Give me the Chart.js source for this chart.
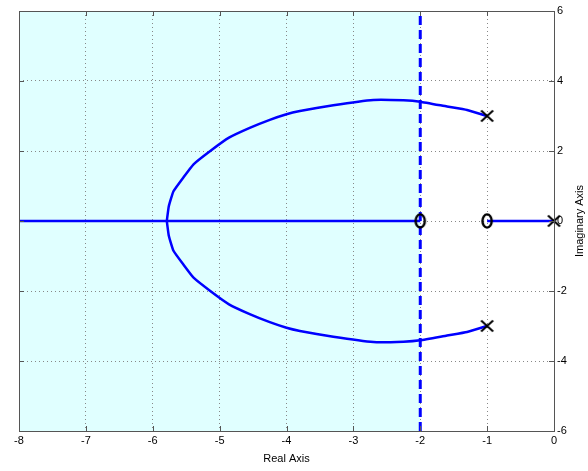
<!DOCTYPE html>
<html>
<head>
<meta charset="utf-8">
<script src="https://cdn.jsdelivr.net/npm/chart.js@4.4.1/dist/chart.umd.min.js"></script>
<style>
  html, body { margin: 0; padding: 0; background: #fff; }
  #wrap { width: 588px; height: 471px; }
</style>
</head>
<body>
<div id="wrap"><canvas id="rl"></canvas></div>
<script>
/* root locus */
const xTicks = [-8, -7, -6, -5, -4, -3, -2, -1, 0];
const yTicks = [-6, -4, -2, 0, 2, 4, 6];

// upper complex branch, from the pole at -1+3j to the break-in point
const upperRe = [-1, -1.3, -1.6, -2.0, -2.25, -2.7, -3.3, -3.8, -4.0, -4.25, -4.55, -4.86, -5.14, -5.39, -5.54, -5.69, -5.76, -5.79];
const upperIm = [3.0, 3.17, 3.27, 3.41, 3.45, 3.46, 3.31, 3.14, 3.05, 2.89, 2.66, 2.38, 2.0, 1.62, 1.25, 0.85, 0.42, 0];
// lower complex branch (mirror image)
const lowerRe = [-1, -1.3, -1.6, -2.0, -2.25, -2.7, -3.3, -3.8, -4.0, -4.25, -4.55, -4.86, -5.14, -5.39, -5.54, -5.69, -5.76, -5.79];
const lowerIm = [-3.0, -3.17, -3.27, -3.41, -3.45, -3.46, -3.31, -3.14, -3.05, -2.89, -2.66, -2.38, -2.0, -1.62, -1.25, -0.85, -0.42, 0];

const realLeftRe = [-8, -2];
const realRightRe = [-1, 0];
const dashRe = -2;
const dashIm = [-6, 6];

const polesRe = [-1, -1, 0];
const polesIm = [3, -3, 0];
const zerosRe = [-2, -1];
const zerosIm = [0, 0];

const shadeRe = [-8, -2];

const pts = (xs, ys) => xs.map((x, i) => ({ x, y: ys[i] }));

// marker glyphs
function xGlyph() {
  const c = document.createElement('canvas');
  c.width = 15; c.height = 14;
  const g = c.getContext('2d');
  g.strokeStyle = '#000'; g.lineWidth = 2;
  g.beginPath();
  g.moveTo(1.5, 1.5); g.lineTo(13.5, 12.5);
  g.moveTo(13.5, 1.5); g.lineTo(1.5, 12.5);
  g.stroke();
  return c;
}
function oGlyph() {
  const c = document.createElement('canvas');
  c.width = 14; c.height = 18;
  const g = c.getContext('2d');
  g.strokeStyle = '#000'; g.lineWidth = 2.4;
  g.beginPath();
  g.ellipse(7, 9, 4.6, 6.6, 0, 0, Math.PI * 2);
  g.stroke();
  return c;
}

const BLUE = '#0000ff';
const FONT = { family: '"Liberation Sans", Arial, sans-serif', size: 11 };

// shaded region, box, inward ticks, y title
const decor = {
  id: 'decor',
  beforeDraw(chart) {
    const { ctx, chartArea: a, scales: { x } } = chart;
    const x0 = x.getPixelForValue(shadeRe[0]);
    const x1 = x.getPixelForValue(shadeRe[1]);
    ctx.save();
    ctx.fillStyle = '#e0ffff';
    ctx.fillRect(x0, a.top, x1 - x0, a.bottom - a.top);
    ctx.restore();
  },
  afterDraw(chart) {
    const { ctx, chartArea: a, scales: { x, y } } = chart;
    ctx.save();
    ctx.strokeStyle = '#555';
    ctx.lineWidth = 1;
    ctx.strokeRect(a.left + 0.5, a.top + 0.5, a.right - a.left, a.bottom - a.top);
    ctx.beginPath();
    xTicks.forEach(v => {
      const px = Math.round(x.getPixelForValue(v)) + 0.5;
      ctx.moveTo(px, a.bottom); ctx.lineTo(px, a.bottom - 5);
      ctx.moveTo(px, a.top); ctx.lineTo(px, a.top + 5);
    });
    yTicks.forEach(v => {
      const py = Math.round(y.getPixelForValue(v)) + 0.5;
      ctx.moveTo(a.right, py); ctx.lineTo(a.right - 5, py);
      ctx.moveTo(a.left, py); ctx.lineTo(a.left + 5, py);
    });
    ctx.stroke();
    // y axis title reads bottom to top
    ctx.translate(580, (a.top + a.bottom) / 2);
    ctx.rotate(-Math.PI / 2);
    ctx.fillStyle = '#000';
    ctx.font = `${FONT.size}px ${FONT.family}`;
    ctx.textAlign = 'center';
    ctx.textBaseline = 'middle';
    ctx.fillText('Imaginary Axis', 0, 0);
    ctx.restore();
  }
};

const lineDs = (data, extra) => Object.assign({
  data, showLine: true, borderColor: BLUE, borderWidth: 2.5,
  pointRadius: 0, tension: 0, fill: false, order: 2
}, extra || {});

new Chart(document.getElementById('rl'), {
  type: 'scatter',
  data: {
    datasets: [
      lineDs(pts(upperRe, upperIm), { tension: 0.12 }),
      lineDs(pts(lowerRe, lowerIm), { tension: 0.12 }),
      lineDs(pts(realLeftRe, [0, 0])),
      lineDs(pts(realRightRe, [0, 0])),
      lineDs(pts([dashRe, dashRe], dashIm), { borderWidth: 3, borderDash: [9, 5], order: 1 }),
      { data: pts(polesRe, polesIm), pointStyle: xGlyph(), pointRadius: 7, clip: false, order: 0 },
      { data: pts(zerosRe, zerosIm), pointStyle: oGlyph(), pointRadius: 7, clip: false, order: 0 }
    ]
  },
  options: {
    responsive: true,
    maintainAspectRatio: false,
    animation: false,
    layout: { padding: { left: 19, top: 11, right: 0, bottom: 0 } },
    plugins: { legend: { display: false }, tooltip: { enabled: false } },
    scales: {
      x: {
        type: 'linear', min: -8, max: 0,
        afterBuildTicks: s => { s.ticks = xTicks.map(v => ({ value: v })); },
        afterFit: s => { s.height = 40; },
        grid: { color: '#888', lineWidth: 1, drawTicks: false },
        border: { display: false, dash: [1, 3] },
        ticks: { color: '#000', font: FONT, padding: 3, maxRotation: 0 },
        title: { display: true, text: 'Real Axis', color: '#000', font: FONT, padding: { top: 0, bottom: 5 } }
      },
      y: {
        type: 'linear', position: 'right', min: -6, max: 6,
        afterBuildTicks: s => { s.ticks = yTicks.map(v => ({ value: v })); },
        afterFit: s => { s.width = 34; },
        grid: { color: '#888', lineWidth: 1, drawTicks: false },
        border: { display: false, dash: [1, 3] },
        ticks: { color: '#000', font: FONT, padding: 3 }
      }
    }
  },
  plugins: [decor]
});
</script>
</body>
</html>
